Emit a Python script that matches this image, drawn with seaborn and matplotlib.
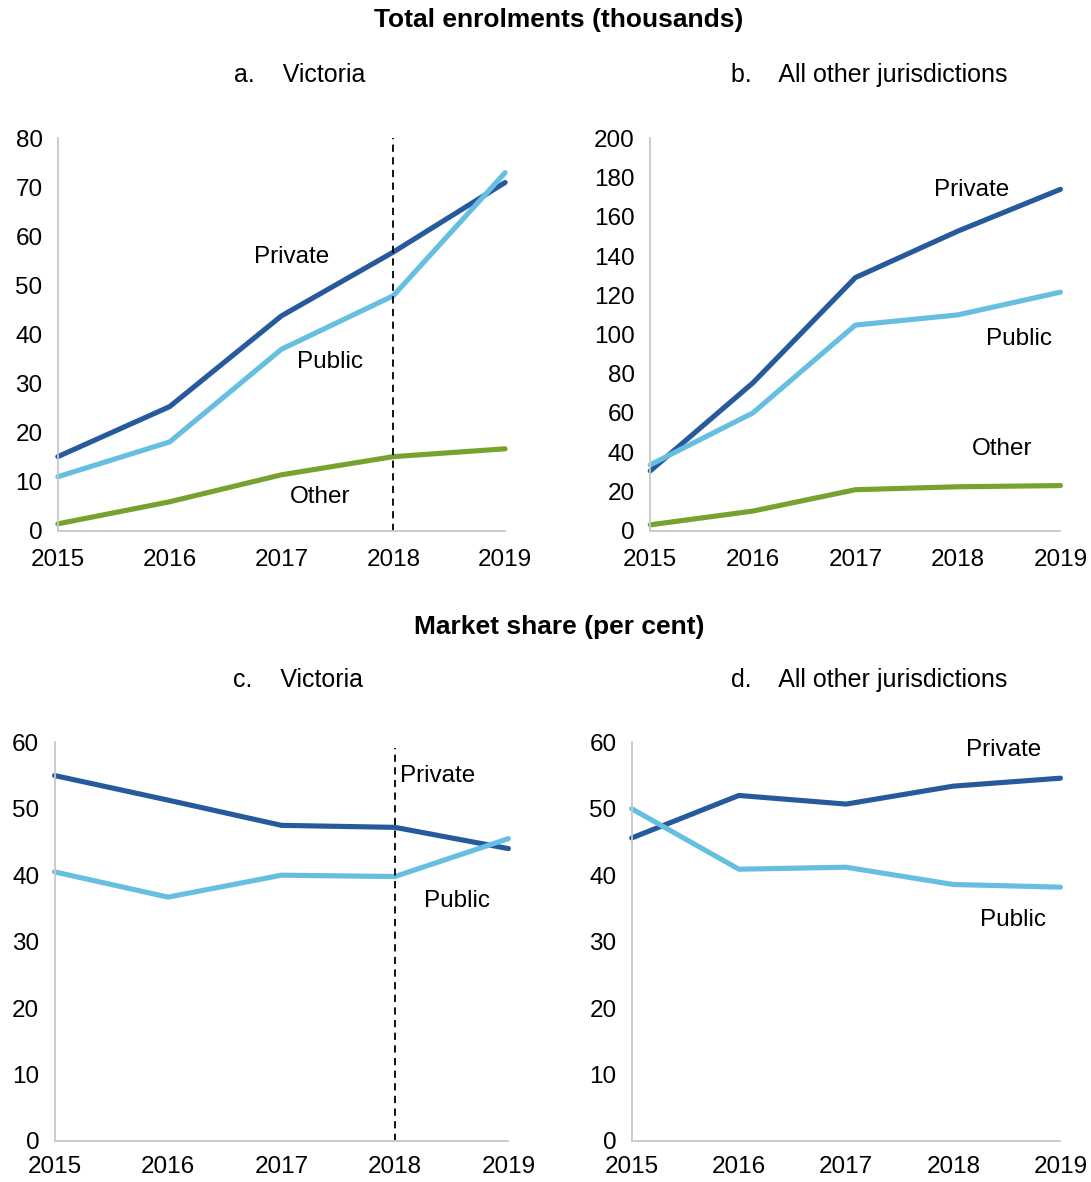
import pandas as pd
import matplotlib.pyplot as plt
import seaborn as sns

YEARS = [2015, 2016, 2017, 2018, 2019]

# total enrolments (thousands)
vic_private = [15.1, 25.3, 43.8, 56.8, 71.0]
vic_public = [11.0, 18.1, 37.0, 47.9, 73.0]
vic_other = [1.4, 5.9, 11.4, 15.1, 16.7]

oth_private = [30.5, 75.3, 129.0, 152.7, 174.0]
oth_public = [33.6, 60.0, 104.8, 110.0, 121.6]
oth_other = [3.0, 10.0, 20.9, 22.4, 23.0]

# market share (per cent)
vic_share_private = [55.0, 51.3, 47.5, 47.2, 44.0]
vic_share_public = [40.5, 36.7, 40.0, 39.8, 45.5]

oth_share_private = [45.6, 52.0, 50.7, 53.4, 54.6]
oth_share_public = [50.0, 40.9, 41.2, 38.6, 38.2]

COLORS = {"Private": "#265a9c", "Public": "#66bfe0", "Other": "#78a22f"}
SPINE = "#c8c8c8"
FS = 17.5
LFS = 17.5


def make_df(series):
    rows = []
    for name, vals in series.items():
        for y, v in zip(YEARS, vals):
            rows.append({"year": y, "value": v, "sector": name})
    return pd.DataFrame(rows)


def style_axis(ax, ymax, step, xpad=7):
    ax.set_xlim(2015, 2019)
    ax.set_ylim(0, ymax)
    ax.set_xticks(YEARS)
    ax.set_yticks(range(0, ymax + 1, step))
    ax.set_xlabel("")
    ax.set_ylabel("")
    for s in ["top", "right"]:
        ax.spines[s].set_visible(False)
    for s in ["left", "bottom"]:
        ax.spines[s].set_color(SPINE)
        ax.spines[s].set_linewidth(1.3)
    ax.tick_params(axis="both", direction="out", length=6, width=1.3,
                   color=SPINE, labelsize=FS, labelcolor="black")
    ax.tick_params(axis="x", pad=xpad)
    ax.tick_params(axis="y", pad=5)
    ax.grid(False)


def draw(ax, series):
    df = make_df(series)
    sns.lineplot(data=df, x="year", y="value", hue="sector", palette=COLORS,
                 linewidth=3.7, ax=ax, legend=False, clip_on=False)


def label(ax, x, y, s):
    ax.text(x, y, s, fontsize=LFS, ha="center", va="center", color="black")


sns.set_theme(style="white")
plt.rcParams["font.family"] = ["Liberation Sans", "DejaVu Sans"]
plt.rcParams["text.color"] = "black"

fig = plt.figure(figsize=(10.91, 11.82), dpi=100)
ax_a = fig.add_axes([0.053, 0.551, 0.410, 0.332])
ax_b = fig.add_axes([0.596, 0.551, 0.376, 0.332])
ax_c = fig.add_axes([0.050, 0.0347, 0.416, 0.3373])
ax_d = fig.add_axes([0.579, 0.0347, 0.393, 0.3373])

draw(ax_a, {"Private": vic_private, "Public": vic_public, "Other": vic_other})
style_axis(ax_a, 80, 10)
ax_a.axvline(2018, color="black", linestyle=(0, (4, 3)), linewidth=1.3)
label(ax_a, 2017.09, 55.8, "Private")
label(ax_a, 2017.43, 34.4, "Public")
label(ax_a, 2017.35, 6.9, "Other")

draw(ax_b, {"Private": oth_private, "Public": oth_public, "Other": oth_other})
style_axis(ax_b, 200, 20)
label(ax_b, 2018.13, 173.5, "Private")
label(ax_b, 2018.6, 97.7, "Public")
label(ax_b, 2018.43, 41.7, "Other")

draw(ax_c, {"Private": vic_share_private, "Public": vic_share_public})
style_axis(ax_c, 60, 10, xpad=5)
ax_c.axvline(2018, ymax=0.985, color="black", linestyle=(0, (4, 3)), linewidth=1.3)
label(ax_c, 2018.38, 55.0, "Private")
label(ax_c, 2018.55, 36.1, "Public")

draw(ax_d, {"Private": oth_share_private, "Public": oth_share_public})
style_axis(ax_d, 60, 10, xpad=5)
label(ax_d, 2018.47, 58.9, "Private")
label(ax_d, 2018.56, 33.2, "Public")

fig.text(559 / 1091, 1 - 20 / 1182, "Total enrolments (thousands)", fontsize=19,
         fontweight="bold", ha="center", va="center")
fig.text(559 / 1091, 1 - 627 / 1182, "Market share (per cent)", fontsize=19,
         fontweight="bold", ha="center", va="center")
fig.text(300 / 1091, 1 - 75 / 1182, "a.    Victoria", fontsize=18, ha="center", va="center")
fig.text(869 / 1091, 1 - 75 / 1182, "b.    All other jurisdictions", fontsize=18,
         ha="center", va="center")
fig.text(298 / 1091, 1 - 680 / 1182, "c.    Victoria", fontsize=18, ha="center", va="center")
fig.text(869 / 1091, 1 - 680 / 1182, "d.    All other jurisdictions", fontsize=18,
         ha="center", va="center")

fig.savefig("out.png", dpi=100)
plt.close(fig)
